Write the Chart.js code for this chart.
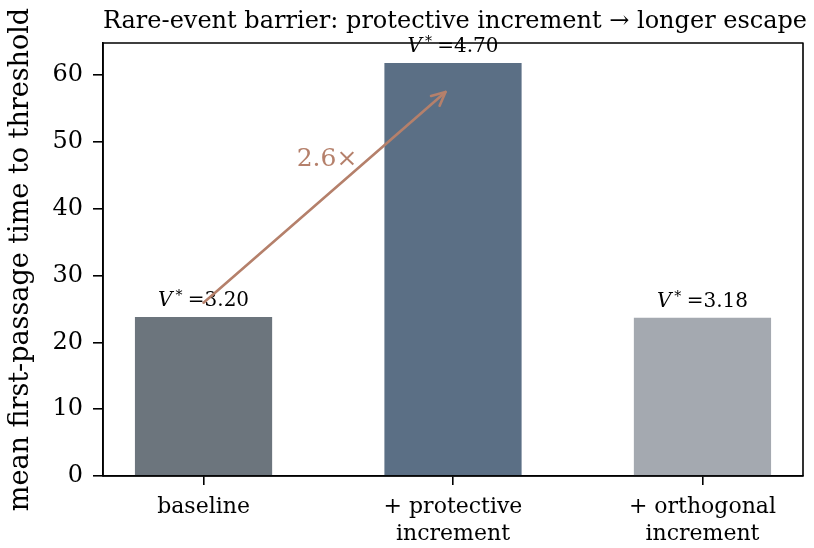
<!DOCTYPE html>
<html>
<head>
<meta charset="utf-8">
<script src="https://cdn.jsdelivr.net/npm/chart.js@4/dist/chart.umd.min.js"></script>
<style>
  html, body { margin: 0; padding: 0; background: #fff; }
  #wrap { width: 814px; height: 548px; }
</style>
</head>
<body>
<div id="wrap"><canvas id="c" width="814" height="548"></canvas></div>
<script>
// Mean first-passage times for the three configurations
const categories = [['baseline'], ['+ protective', 'increment'], ['+ orthogonal', 'increment']];
const passageTimes = [23.8, 61.8, 23.7];
const vStar = ['3.20', '4.70', '3.18'];
const barColors = ['#6c757d', '#5b6f85', '#a4a9b0'];
const yTicks = [0, 10, 20, 30, 40, 50, 60];
const yMax = 64.8;
const titleText = 'Rare-event barrier: protective increment \u2192 longer escape';
const yTitle = 'mean first-passage time to threshold';

const FONT = '"DejaVu Serif", serif';
const arrowColor = '#b5806b';

// Arrow from the baseline bar up to the protective bar, labelled with the ratio
const arrowFrom = { x: 0, y: passageTimes[0] * 1.09 };
const arrowTo = { x: 0.97, y: passageTimes[1] * 0.93 };
const ratioLabel = (passageTimes[1] / passageTimes[0]).toFixed(1) + '\u00d7';
const ratioPos = { x: 0.495, y: 47.4 };

const decorations = {
  id: 'decorations',
  afterDatasetsDraw(chart) {
    const { ctx, chartArea: a, scales: { x, y } } = chart;
    ctx.save();

    // title
    ctx.fillStyle = '#000';
    ctx.font = '24px ' + FONT;
    ctx.textAlign = 'center';
    ctx.textBaseline = 'alphabetic';
    ctx.fillText(titleText, (a.left + a.right) / 2 + 2, 28);

    // y axis title
    ctx.save();
    ctx.translate(21, (a.top + a.bottom) / 2);
    ctx.rotate(-Math.PI / 2);
    ctx.font = '27px ' + FONT;
    ctx.textBaseline = 'middle';
    ctx.fillText(yTitle, 0, 0);
    ctx.restore();

    // V* labels above each bar
    passageTimes.forEach((v, i) => {
      const cx = x.getPixelForValue(i);
      const by = y.getPixelForValue(v) - 11;
      const fMain = '20px ' + FONT;
      const fIt = 'italic 20px ' + FONT;
      const fSup = '14px ' + FONT;
      const rest = ' =' + vStar[i];
      ctx.font = fIt; const wV = ctx.measureText('V').width;
      ctx.font = fSup; const wS = ctx.measureText('*').width;
      ctx.font = fMain; const wR = ctx.measureText(rest).width;
      let sx = cx - (wV + wS + wR + 2) / 2;
      ctx.textAlign = 'left';
      ctx.fillStyle = '#000';
      ctx.font = fIt; ctx.fillText('V', sx, by); sx += wV + 3;
      ctx.font = fSup; ctx.fillText('*', sx, by - 6); sx += wS - 1;
      ctx.font = fMain; ctx.fillText(rest, sx, by);
    });

    // ratio arrow
    const x0 = x.getPixelForValue(arrowFrom.x), y0 = y.getPixelForValue(arrowFrom.y);
    const x1 = x.getPixelForValue(arrowTo.x), y1 = y.getPixelForValue(arrowTo.y);
    ctx.strokeStyle = arrowColor;
    ctx.lineWidth = 2.6;
    ctx.lineCap = 'round';
    ctx.lineJoin = 'round';
    ctx.beginPath(); ctx.moveTo(x0, y0); ctx.lineTo(x1, y1); ctx.stroke();
    const ang = Math.atan2(y1 - y0, x1 - x0);
    const hl = 15, spread = 0.45;
    ctx.beginPath();
    ctx.moveTo(x1 - hl * Math.cos(ang - spread), y1 - hl * Math.sin(ang - spread));
    ctx.lineTo(x1, y1);
    ctx.lineTo(x1 - hl * Math.cos(ang + spread), y1 - hl * Math.sin(ang + spread));
    ctx.stroke();

    ctx.fillStyle = arrowColor;
    ctx.font = '25px ' + FONT;
    ctx.textAlign = 'center';
    ctx.textBaseline = 'middle';
    ctx.fillText(ratioLabel, x.getPixelForValue(ratioPos.x), y.getPixelForValue(ratioPos.y));

    // axes frame
    ctx.strokeStyle = '#000';
    ctx.lineWidth = 1.6;
    ctx.lineCap = 'butt';
    ctx.strokeRect(a.left, a.top, a.right - a.left, a.bottom - a.top);
    ctx.restore();
  }
};

new Chart(document.getElementById('c'), {
  type: 'bar',
  data: {
    datasets: [{
      data: passageTimes.map((v, i) => ({ x: i, y: v })),
      backgroundColor: barColors,
      barPercentage: 0.55,
      categoryPercentage: 1
    }]
  },
  options: {
    responsive: false,
    animation: false,
    devicePixelRatio: 1,
    layout: { padding: { top: 43, right: 11, left: 0, bottom: 0 } },
    plugins: { legend: { display: false }, tooltip: { enabled: false }, title: { display: false } },
    scales: {
      x: {
        type: 'linear',
        min: -0.403,
        max: 2.403,
        offset: false,
        afterBuildTicks: s => { s.ticks = categories.map((_, i) => ({ value: i })); },
        afterFit: s => { s.height = 72; },
        ticks: {
          callback: v => categories[v],
          color: '#000',
          font: { family: FONT, size: 22, lineHeight: 1.22 },
          padding: 9,
          maxRotation: 0,
          autoSkip: false
        },
        grid: { offset: false, drawOnChartArea: false, tickLength: 9, color: '#000', lineWidth: 1.6 },
        border: { color: '#000', width: 1.6 }
      },
      y: {
        min: 0,
        max: yMax,
        afterBuildTicks: s => { s.ticks = yTicks.map(v => ({ value: v })); },
        afterFit: s => { s.width = 103; },
        ticks: {
          color: '#000',
          font: { family: FONT, size: 24 },
          padding: 10
        },
        grid: { drawOnChartArea: false, tickLength: 10, color: '#000', lineWidth: 1.6 },
        border: { color: '#000', width: 1.6 }
      }
    }
  },
  plugins: [decorations]
});
</script>
</body>
</html>
